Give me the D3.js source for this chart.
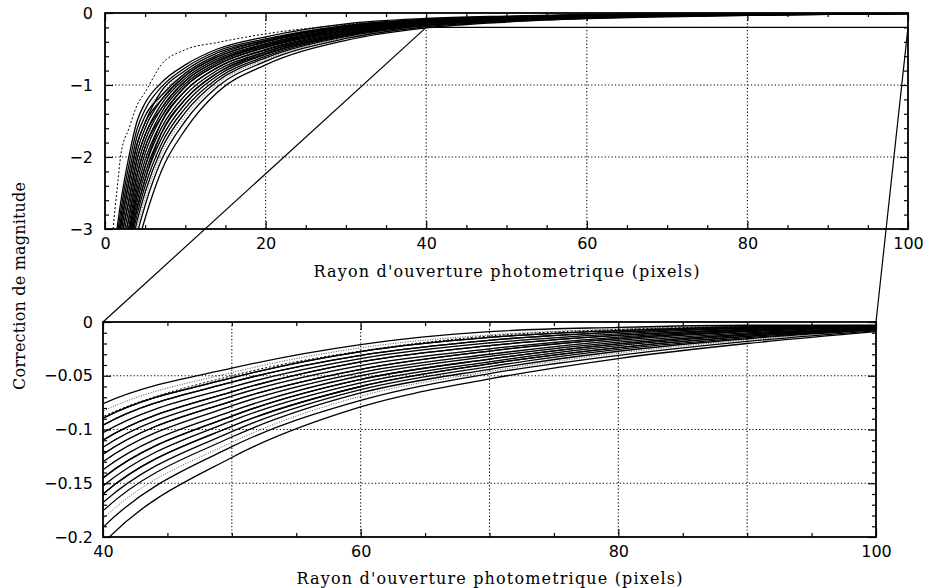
<!DOCTYPE html>
<html><head><meta charset="utf-8">
<script src="https://cdn.jsdelivr.net/npm/d3@7"></script>
<style>
body{margin:0;background:#fff}
svg{display:block}
.tick text{font-family:"DejaVu Sans",sans-serif;font-size:16px;fill:#000}
.title{font-family:"DejaVu Serif",serif;font-size:16px;fill:#000}
</style>
</head><body>
<svg id="chart" width="928" height="588"></svg>
<script>
// ---------- data ----------
const radii = [1,1.5,2,3,4,5,7,10,14,20,30,40,50,60,70,80,90,100];
const corrections = [
 [-3.6,-3.0,-2.6,-1.98,-1.5,-1.25,-0.97,-0.72,-0.5,-0.33,-0.15,-0.076,-0.043,-0.021,-0.009,-0.005,-0.003,-0.003],
 [-3.0,-2.45,-1.95,-1.6,-1.28,-1.1,-0.72,-0.51,-0.41,-0.29,-0.16,-0.088,-0.05,-0.027,-0.013,-0.007,-0.004,-0.003],
 [-3.7,-3.12,-2.72,-2.1,-1.61,-1.34,-1.03,-0.76,-0.528,-0.36,-0.175,-0.0895,-0.052,-0.0275,-0.0143,-0.008,-0.0045,-0.0035],
 [-3.8,-3.23,-2.83,-2.22,-1.71,-1.43,-1.09,-0.8,-0.555,-0.36,-0.163,-0.083,-0.047,-0.024,-0.012,-0.0065,-0.0038,-0.0033],
 [-3.9,-3.34,-2.94,-2.34,-1.82,-1.52,-1.09,-0.8,-0.555,-0.379,-0.188,-0.096,-0.056,-0.031,-0.017,-0.0095,-0.0053,-0.0038],
 [-3.8,-3.23,-2.83,-2.22,-1.71,-1.43,-1.15,-0.835,-0.583,-0.379,-0.175,-0.0895,-0.052,-0.0275,-0.0143,-0.008,-0.0045,-0.0035],
 [-4.0,-3.45,-3.05,-2.465,-1.925,-1.6,-1.15,-0.835,-0.583,-0.397,-0.2,-0.103,-0.0605,-0.034,-0.0195,-0.011,-0.006,-0.004],
 [-3.9,-3.34,-2.94,-2.34,-1.82,-1.52,-1.21,-0.87,-0.61,-0.397,-0.188,-0.096,-0.056,-0.031,-0.017,-0.0095,-0.0053,-0.0038],
 [-4.0,-3.45,-3.05,-2.465,-1.925,-1.6,-1.21,-0.87,-0.61,-0.405,-0.2,-0.103,-0.0605,-0.034,-0.0195,-0.011,-0.006,-0.004],
 [-4.1,-3.56,-3.16,-2.59,-2.03,-1.69,-1.27,-0.908,-0.638,-0.424,-0.213,-0.11,-0.065,-0.037,-0.022,-0.0125,-0.0068,-0.0043],
 [-4.2,-3.675,-3.275,-2.71,-2.14,-1.775,-1.27,-0.908,-0.638,-0.434,-0.225,-0.1165,-0.069,-0.0405,-0.025,-0.014,-0.0075,-0.0045],
 [-4.1,-3.56,-3.16,-2.59,-2.03,-1.69,-1.33,-0.945,-0.665,-0.434,-0.213,-0.11,-0.065,-0.037,-0.022,-0.0125,-0.0068,-0.0043],
 [-4.2,-3.675,-3.275,-2.71,-2.14,-1.775,-1.33,-0.945,-0.665,-0.452,-0.238,-0.123,-0.0735,-0.044,-0.027,-0.0155,-0.0083,-0.0048],
 [-4.3,-3.79,-3.39,-2.83,-2.245,-1.86,-1.39,-0.983,-0.693,-0.452,-0.225,-0.1165,-0.069,-0.0405,-0.025,-0.014,-0.0075,-0.0045],
 [-4.4,-3.9,-3.5,-2.95,-2.35,-1.95,-1.39,-0.983,-0.693,-0.47,-0.25,-0.13,-0.078,-0.047,-0.03,-0.017,-0.009,-0.005],
 [-4.3,-3.79,-3.39,-2.83,-2.245,-1.86,-1.45,-1.02,-0.72,-0.47,-0.238,-0.123,-0.0735,-0.044,-0.027,-0.0155,-0.0083,-0.0048],
 [-4.4,-3.9,-3.5,-2.95,-2.35,-1.95,-1.45,-1.02,-0.72,-0.48,-0.25,-0.13,-0.078,-0.047,-0.03,-0.017,-0.009,-0.005],
 [-4.46,-3.97,-3.58,-3.025,-2.44,-2.04,-1.525,-1.08,-0.758,-0.504,-0.263,-0.1375,-0.083,-0.05,-0.032,-0.0187,-0.0101,-0.0054],
 [-4.52,-4.04,-3.66,-3.1,-2.53,-2.13,-1.525,-1.08,-0.758,-0.516,-0.276,-0.145,-0.0876,-0.0534,-0.0346,-0.0204,-0.0112,-0.0058],
 [-4.46,-3.97,-3.58,-3.025,-2.44,-2.04,-1.6,-1.14,-0.796,-0.516,-0.263,-0.1375,-0.083,-0.05,-0.032,-0.0187,-0.0101,-0.0054],
 [-4.52,-4.04,-3.66,-3.1,-2.53,-2.13,-1.6,-1.14,-0.796,-0.54,-0.289,-0.1525,-0.092,-0.0566,-0.037,-0.022,-0.0123,-0.0062],
 [-4.58,-4.11,-3.74,-3.175,-2.62,-2.22,-1.675,-1.2,-0.834,-0.54,-0.276,-0.145,-0.0876,-0.0534,-0.0346,-0.0204,-0.0112,-0.0058],
 [-4.64,-4.18,-3.82,-3.25,-2.71,-2.31,-1.675,-1.2,-0.834,-0.564,-0.302,-0.16,-0.097,-0.06,-0.039,-0.0238,-0.0134,-0.0066],
 [-4.58,-4.11,-3.74,-3.175,-2.62,-2.22,-1.75,-1.26,-0.872,-0.564,-0.289,-0.1525,-0.092,-0.0566,-0.037,-0.022,-0.0123,-0.0062],
 [-4.64,-4.18,-3.82,-3.25,-2.71,-2.31,-1.75,-1.26,-0.872,-0.576,-0.302,-0.16,-0.097,-0.06,-0.039,-0.0238,-0.0134,-0.0066],
 [-4.7,-4.25,-3.9,-3.325,-2.8,-2.4,-1.825,-1.32,-0.91,-0.6,-0.315,-0.168,-0.102,-0.063,-0.0415,-0.0255,-0.0145,-0.007],
 [-4.76,-4.32,-3.98,-3.4,-2.89,-2.49,-1.9,-1.38,-0.948,-0.624,-0.328,-0.1756,-0.107,-0.066,-0.044,-0.0272,-0.0156,-0.0074],
 [-4.82,-4.39,-4.06,-3.475,-2.98,-2.58,-1.975,-1.44,-0.986,-0.648,-0.341,-0.183,-0.112,-0.069,-0.046,-0.029,-0.0167,-0.0078],
 [-4.88,-4.46,-4.14,-3.55,-3.07,-2.67,-2.05,-1.5,-1.024,-0.672,-0.354,-0.191,-0.116,-0.073,-0.048,-0.031,-0.018,-0.0082],
 [-5.0,-4.6,-4.3,-3.7,-3.25,-2.85,-2.2,-1.62,-1.1,-0.72,-0.38,-0.206,-0.126,-0.079,-0.053,-0.034,-0.02,-0.009]
];
const lineStyles = ["solid","dashed","solid","dotted","solid","solid","dotted","solid","solid","solid",
                    "dotted","solid","solid","solid","dotted","solid","solid","solid","solid","dotted",
                    "solid","solid","solid","dotted","solid","solid","solid","dotted","solid","solid"];

const topXTicks = [0,20,40,60,80,100];
const topXGrid = [20,40,60,80];
const topYTicks = [0,-1,-2,-3];
const topYGrid = [-1,-2];
const botXTicks = [40,60,80,100];
const botXGrid = [50,60,70,80,90];
const botYTicks = [0,-0.05,-0.1,-0.15,-0.2];
const botYGrid = [-0.05,-0.1,-0.15];
const zoomX = [40,100];
const zoomY = -0.2;
const xTitle = "Rayon d'ouverture photometrique (pixels)";
const yTitle = "Correction de magnitude";

// ---------- drawing ----------
const svg = d3.select("#chart");
const fmt = v => v === 0 ? "0" : String(v).replace("-", "\u2212");

function range(a, b, step){ return d3.range(a, b + step/2, step); }

function panel(cfg){
  const g = svg.append("g");
  const x = d3.scaleLinear().domain(cfg.xd).range([cfg.left, cfg.right]);
  const y = d3.scaleLinear().domain(cfg.yd).range([cfg.bottom, cfg.top]);
  const clipId = "clip" + cfg.id;
  svg.append("clipPath").attr("id", clipId).append("rect")
    .attr("x", cfg.left).attr("y", cfg.top)
    .attr("width", cfg.right - cfg.left).attr("height", cfg.bottom - cfg.top);

  // grid
  const grid = g.append("g").attr("stroke", "#000").attr("stroke-width", 1.1)
     .attr("stroke-dasharray", "1.2,2.2");
  cfg.xGrid.forEach(v => grid.append("line").attr("x1", x(v)).attr("x2", x(v))
     .attr("y1", cfg.top).attr("y2", cfg.bottom));
  cfg.yGrid.forEach(v => grid.append("line").attr("y1", y(v)).attr("y2", y(v))
     .attr("x1", cfg.left).attr("x2", cfg.right));

  // curves
  const line = d3.line().x(d => x(d[0])).y(d => y(d[1])).curve(d3.curveMonotoneX);
  const cg = g.append("g").attr("clip-path", `url(#${clipId})`).attr("fill", "none");
  corrections.forEach((vals, i) => {
    const pts = radii.map((r, j) => [r, vals[j]]);
    const st = lineStyles[i];
    const p = cg.append("path").attr("d", line(pts)).attr("stroke", "#000");
    if (st === "solid") p.attr("stroke-width", 1.3);
    else if (st === "dashed") p.attr("stroke-width", 1).attr("stroke-dasharray", "2,2");
    else p.attr("stroke-width", 0.8).attr("stroke-dasharray", "1,1.5").attr("stroke-opacity", 0.85);
  });

  // axes (inward ticks on all four sides)
  const axG = g.append("g");
  const H = cfg.bottom - cfg.top;
  axG.append("g").attr("transform", `translate(0,${cfg.bottom})`)
    .call(d3.axisBottom(x).tickValues(cfg.xTicks).tickFormat(fmt).tickSizeInner(-8).tickSizeOuter(0).tickPadding(9));
  axG.append("g").attr("transform", `translate(0,${cfg.bottom})`)
    .call(d3.axisBottom(x).tickValues(cfg.xMinor).tickFormat("").tickSizeInner(-4).tickSizeOuter(0));
  axG.append("g").attr("transform", `translate(0,${cfg.top})`)
    .call(d3.axisTop(x).tickValues(cfg.xTicks).tickFormat("").tickSizeInner(-8).tickSizeOuter(0));
  axG.append("g").attr("transform", `translate(0,${cfg.top})`)
    .call(d3.axisTop(x).tickValues(cfg.xMinor).tickFormat("").tickSizeInner(-4).tickSizeOuter(0));
  axG.append("g").attr("transform", `translate(${cfg.left},0)`)
    .call(d3.axisLeft(y).tickValues(cfg.yTicks).tickFormat(fmt).tickSizeInner(-8).tickSizeOuter(0).tickPadding(cfg.yPad));
  axG.append("g").attr("transform", `translate(${cfg.left},0)`)
    .call(d3.axisLeft(y).tickValues(cfg.yMinor).tickFormat("").tickSizeInner(-4).tickSizeOuter(0));
  axG.append("g").attr("transform", `translate(${cfg.right},0)`)
    .call(d3.axisRight(y).tickValues(cfg.yTicks).tickFormat("").tickSizeInner(-8).tickSizeOuter(0));
  axG.append("g").attr("transform", `translate(${cfg.right},0)`)
    .call(d3.axisRight(y).tickValues(cfg.yMinor).tickFormat("").tickSizeInner(-4).tickSizeOuter(0));
  axG.selectAll(".domain").remove();
  axG.selectAll(".tick line").attr("stroke", "#000").attr("stroke-width", 1.2);

  // frame
  g.append("rect").attr("x", cfg.left).attr("y", cfg.top)
    .attr("width", cfg.right - cfg.left).attr("height", H)
    .attr("fill", "none").attr("stroke", "#000").attr("stroke-width", 1.8);

  // x title
  g.append("text").attr("class", "title")
    .attr("x", (cfg.left + cfg.right) / 2).attr("y", cfg.titleY)
    .attr("text-anchor", "middle")
    .attr("textLength", 386).attr("lengthAdjust", "spacing")
    .text(xTitle);
  return {x, y};
}

const topP = panel({
  id: "t", xd: [0, 100], yd: [-3, 0], left: 105, right: 908, top: 13, bottom: 229,
  xTicks: topXTicks, xMinor: range(0, 100, 5).filter(v => v % 20 !== 0),
  yTicks: topYTicks, yMinor: range(-3, 0, 0.2).filter(v => Math.abs(v - Math.round(v)) > 1e-6),
  xGrid: topXGrid, yGrid: topYGrid, yPad: 12, titleY: 277
});
const botP = panel({
  id: "b", xd: [40, 100], yd: [-0.2, 0], left: 103, right: 876, top: 322, bottom: 537,
  xTicks: botXTicks, xMinor: range(40, 100, 5).filter(v => v % 20 !== 0),
  yTicks: botYTicks, yMinor: range(-0.2, 0, 0.01).filter(v => Math.abs(v * 20 - Math.round(v * 20)) > 1e-6),
  xGrid: botXGrid, yGrid: botYGrid, yPad: 10, titleY: 584
});

// zoom connectors
const zc = svg.append("g").attr("stroke", "#000").attr("stroke-width", 1.2).attr("fill", "none");
zc.append("line").attr("x1", topP.x(zoomX[0])).attr("y1", topP.y(zoomY))
  .attr("x2", topP.x(zoomX[1])).attr("y2", topP.y(zoomY));
zc.append("line").attr("x1", topP.x(zoomX[0])).attr("y1", topP.y(zoomY))
  .attr("x2", botP.x(zoomX[0])).attr("y2", botP.y(0));
zc.append("line").attr("x1", topP.x(zoomX[1])).attr("y1", topP.y(zoomY))
  .attr("x2", botP.x(zoomX[1])).attr("y2", botP.y(0));

// y title
svg.append("text").attr("class", "title")
  .attr("transform", "translate(25,286) rotate(-90)")
  .attr("text-anchor", "middle")
  .attr("textLength", 208).attr("lengthAdjust", "spacing")
  .text(yTitle);
</script>
</body></html>
